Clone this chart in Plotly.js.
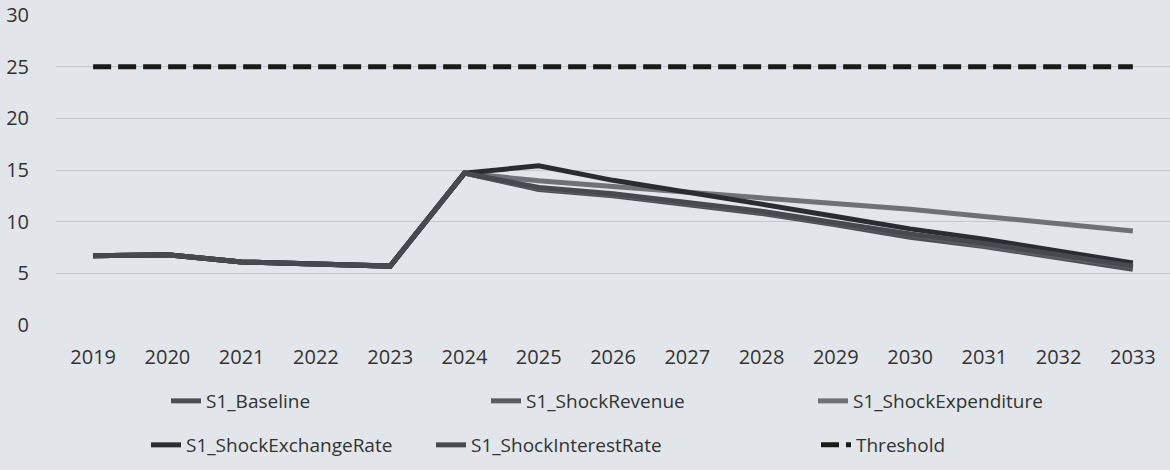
<!DOCTYPE html>
<html>
<head>
<meta charset="utf-8">
<script src="https://cdn.plot.ly/plotly-3.0.1.min.js"></script>
<style>
html,body{margin:0;padding:0;background:#e2e6ea;}
#chart{width:1170px;height:470px;}
</style>
</head>
<body>
<div id="chart"></div>
<script>
const years = ["2019","2020","2021","2022","2023","2024","2025","2026","2027","2028","2029","2030","2031","2032","2033"];
const s1Baseline = [6.7,6.8,6.1,5.9,5.7,14.7,13.1,12.5,11.6,10.8,9.7,8.5,7.6,6.5,5.4];
const s1ShockRevenue = [6.7,6.8,6.1,5.9,5.7,14.7,13.2,12.6,11.7,10.9,9.8,8.7,7.7,6.6,5.6];
const s1ShockExpenditure = [6.7,6.8,6.1,5.9,5.7,14.7,13.95,13.4,12.85,12.4,11.85,11.2,10.5,9.8,9.1];
const s1ShockExchangeRate = [6.7,6.8,6.1,5.9,5.7,14.7,15.4,14.0,12.9,11.7,10.5,9.3,8.3,7.2,6.0];
const s1ShockInterestRate = [6.7,6.8,6.1,5.9,5.7,14.7,13.3,12.7,11.8,11.0,9.9,8.8,7.9,6.8,5.7];
const threshold = [25,25,25,25,25,25,25,25,25,25,25,25,25,25,25];
const yTicks = [0,5,10,15,20,25,30];

const font = "'Open Sans', 'Liberation Sans', sans-serif";

function line(name, y, color, legend, dash) {
  return {
    type: 'scatter', mode: 'lines', name: name, x: years, y: y,
    legend: legend,
    line: {color: color, width: 5, dash: dash || 'solid'}
  };
}

const data = [
  line('S1_Baseline', s1Baseline, '#4b4f55', 'legend'),
  line('S1_ShockRevenue', s1ShockRevenue, '#5a5e64', 'legend2'),
  line('S1_ShockExpenditure', s1ShockExpenditure, '#6e7277', 'legend3'),
  line('S1_ShockExchangeRate', s1ShockExchangeRate, '#2a2c30', 'legend4'),
  line('S1_ShockInterestRate', s1ShockInterestRate, '#464a50', 'legend5'),
  line('Threshold', threshold, '#1a1a1a', 'legend6', '18px,7px')
];

function leg(xpx, ypx) {
  return {
    xref: 'container', yref: 'container',
    x: xpx / 1170, y: 1 - ypx / 470,
    xanchor: 'left', yanchor: 'middle',
    orientation: 'h', bgcolor: 'rgba(0,0,0,0)',
    font: {family: font, size: 19, color: '#333'}
  };
}

const layout = {
  width: 1170, height: 470,
  margin: {l: 56, r: 0, t: 15, b: 145},
  paper_bgcolor: '#e2e6ea',
  plot_bgcolor: '#e2e6ea',
  showlegend: true,
  xaxis: {
    type: 'category', categoryarray: years,
    range: [-0.5, 14.5],
    showgrid: false, zeroline: false, showline: false,
    ticks: 'outside', ticklen: 14, tickcolor: 'rgba(0,0,0,0)',
    tickfont: {family: font, size: 20, color: '#333'}
  },
  yaxis: {
    range: [0, 30], tickvals: yTicks,
    showgrid: true, gridcolor: '#c4c8cd', gridwidth: 1,
    zeroline: false, showline: false,
    ticks: 'outside', ticklen: 22, tickcolor: 'rgba(0,0,0,0)',
    tickfont: {family: font, size: 20, color: '#333'}
  },
  legend: leg(166, 401),
  legend2: leg(486, 401),
  legend3: leg(813, 401),
  legend4: leg(146, 445),
  legend5: leg(431, 445),
  legend6: leg(816, 445)
};

Plotly.newPlot('chart', data, layout, {displayModeBar: false, staticPlot: true});
</script>
</body>
</html>
